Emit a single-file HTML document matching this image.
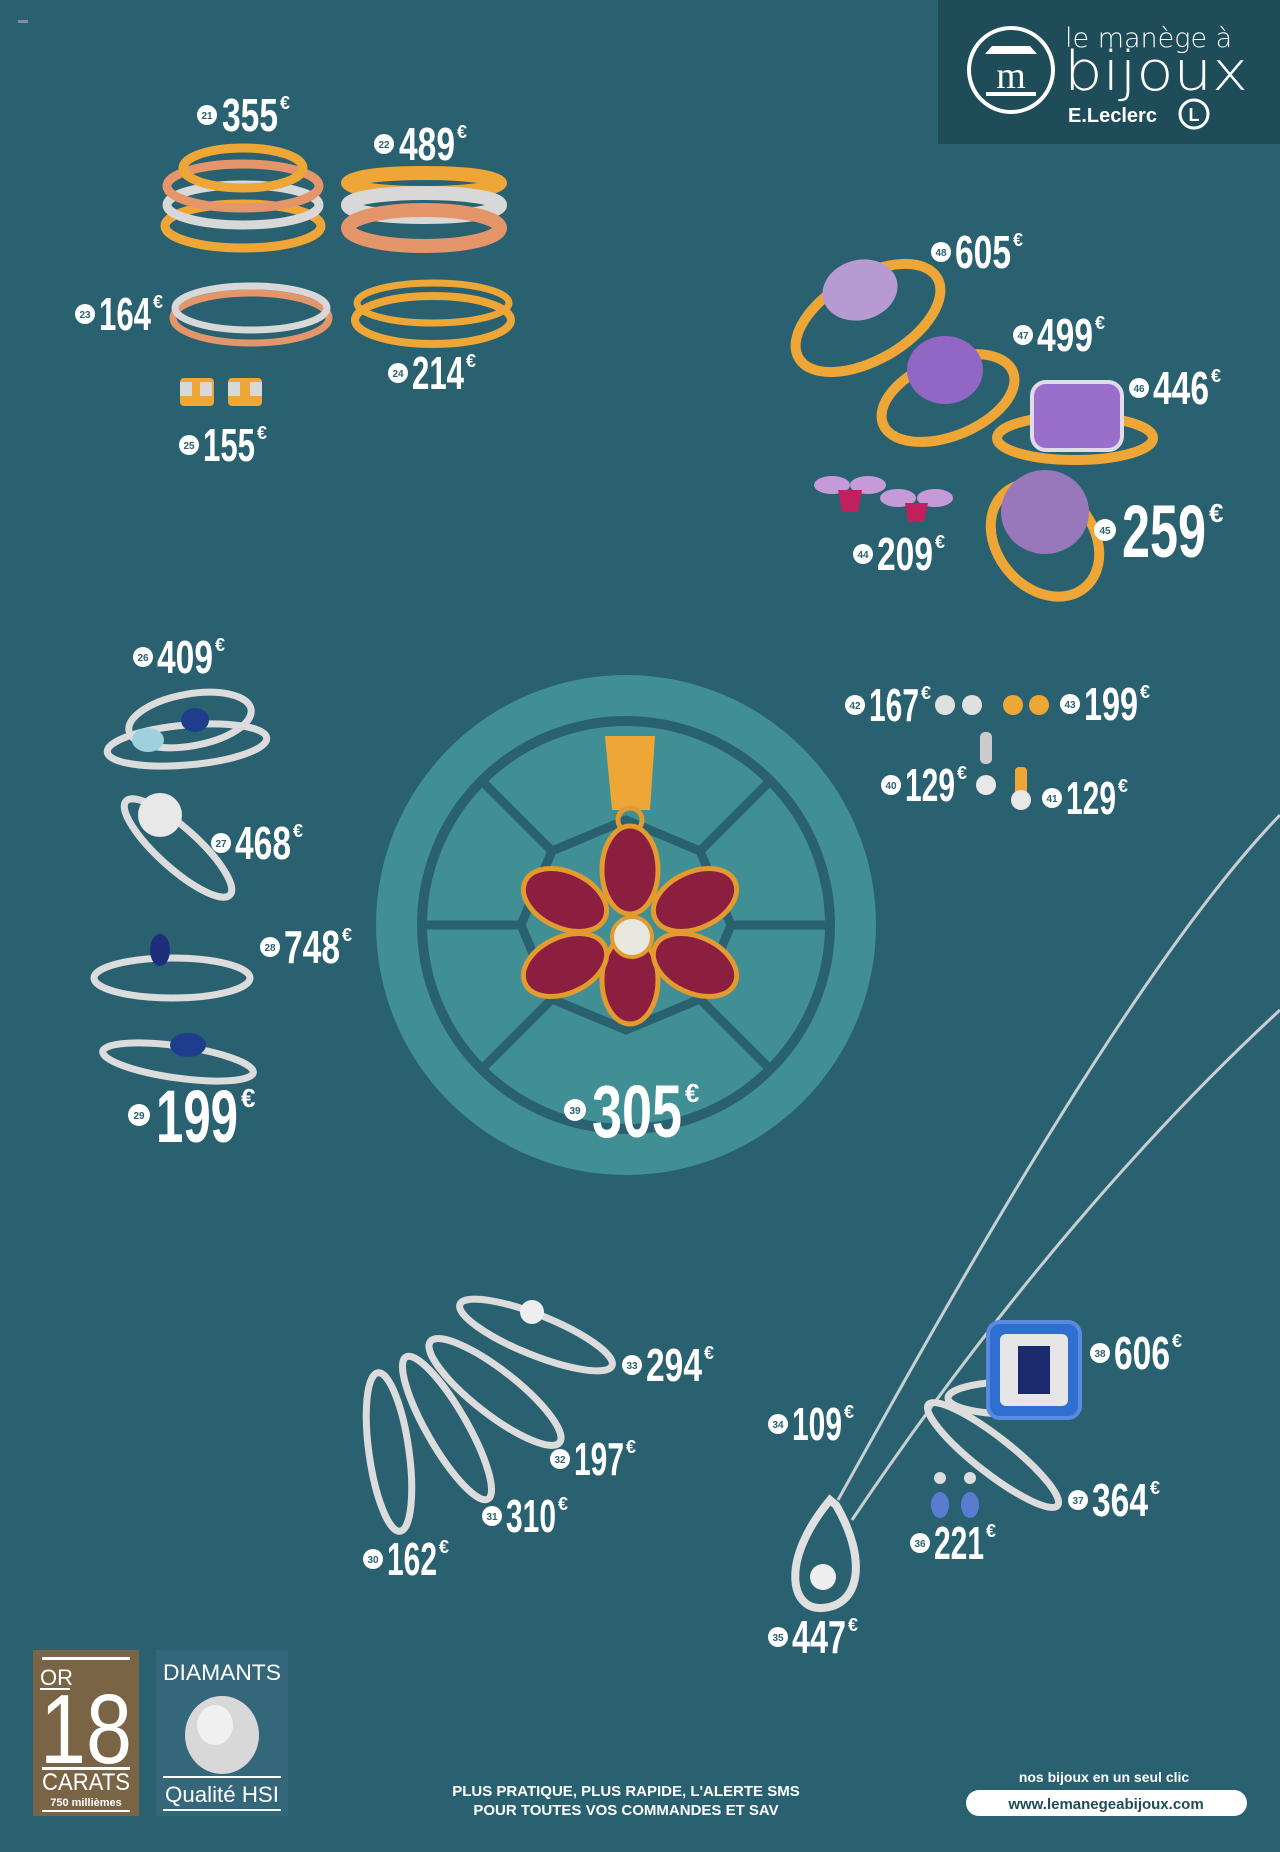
<!DOCTYPE html>
<html><head><meta charset="utf-8"><style>
html,body{margin:0;padding:0;background:#2a6170;}
svg{display:block}
.p{font-family:"Liberation Sans Narrow","Liberation Sans",sans-serif;font-weight:700;fill:#fff}
.n{font-family:"Liberation Sans",sans-serif;font-weight:700;fill:#2a6170;font-size:10px;text-anchor:middle}
</style></head><body>
<svg width="1280" height="1852" viewBox="0 0 1280 1852" xmlns="http://www.w3.org/2000/svg">
<rect width="1280" height="1852" fill="#2a6170"/>
<rect x="18" y="20" width="10" height="3" fill="#88a"/>
<!-- logo -->
<rect x="938" y="0" width="342" height="144" fill="#1f4c59"/>
<circle cx="1011" cy="70" r="42" fill="none" stroke="#fff" stroke-width="4"/>
<path d="M985 54 L1037 54 L1030 46 L992 46 Z" fill="#fff"/>
<text x="1011" y="88" font-family="Liberation Serif,serif" font-size="38" fill="#fff" text-anchor="middle">m</text>
<rect x="986" y="92" width="50" height="4" fill="#fff"/>
<text x="1065" y="47" font-family="DejaVu Sans,sans-serif" font-size="27" fill="#fff" font-weight="300">le manège à</text>
<text x="1064" y="90" font-family="DejaVu Sans,sans-serif" font-size="54" fill="#fff" font-weight="300" textLength="184" lengthAdjust="spacingAndGlyphs">bijoux</text>
<text x="1068" y="122" font-family="Liberation Sans,sans-serif" font-size="20" fill="#fff" font-weight="700">E.Leclerc</text>
<circle cx="1194" cy="114" r="14" fill="none" stroke="#fff" stroke-width="3"/>
<text x="1194" y="121" font-family="Liberation Sans,sans-serif" font-size="18" fill="#fff" font-weight="700" text-anchor="middle">L</text>

<!-- center medallion -->
<circle cx="626" cy="925" r="250" fill="#3f8f94"/>
<circle cx="626" cy="925" r="204" fill="none" stroke="#2a6170" stroke-width="10"/>
<g stroke="#2a6170" stroke-width="9">
<line x1="626" y1="925" x2="830" y2="925"/><line x1="626" y1="925" x2="422" y2="925"/>
<line x1="626" y1="925" x2="770" y2="781"/><line x1="626" y1="925" x2="482" y2="781"/>
<line x1="626" y1="925" x2="770" y2="1069"/><line x1="626" y1="925" x2="482" y2="1069"/>
</g>
<polygon points="626,820 700,851 731,925 700,999 626,1030 552,999 521,925 552,851" fill="#3f8f94" stroke="#2a6170" stroke-width="9"/>
<!-- pendant flower -->
<path d="M605 736 L655 736 L650 810 L612 810 Z" fill="#eea636"/>
<circle cx="630" cy="820" r="12" fill="none" stroke="#e39a2e" stroke-width="5"/>
<g fill="#8c1f40" stroke="#e39a2e" stroke-width="5">
<ellipse cx="630" cy="870" rx="28" ry="44"/>
<ellipse cx="630" cy="980" rx="28" ry="44"/>
<ellipse cx="565" cy="900" rx="44" ry="28" transform="rotate(25 565 900)"/>
<ellipse cx="695" cy="900" rx="44" ry="28" transform="rotate(-25 695 900)"/>
<ellipse cx="565" cy="965" rx="44" ry="28" transform="rotate(-25 565 965)"/>
<ellipse cx="695" cy="965" rx="44" ry="28" transform="rotate(25 695 965)"/>
</g>
<circle cx="632" cy="937" r="20" fill="#e8e8e0" stroke="#e39a2e" stroke-width="4"/>

<!-- top-left gold rings -->
<g fill="none" stroke-width="9">
<ellipse cx="243" cy="226" rx="78" ry="22" stroke="#eea636"/>
<ellipse cx="243" cy="205" rx="76" ry="20" stroke="#d8d8d8"/>
<ellipse cx="243" cy="186" rx="76" ry="22" stroke="#e5956a"/>
<ellipse cx="243" cy="168" rx="60" ry="20" stroke="#eea636"/>
<ellipse cx="424" cy="183" rx="76" ry="10" stroke="#eea636" stroke-width="14"/>
<ellipse cx="424" cy="205" rx="76" ry="12" stroke="#d8d8d8" stroke-width="14"/>
<ellipse cx="424" cy="228" rx="76" ry="18" stroke="#e5956a" stroke-width="14"/>
<ellipse cx="251" cy="318" rx="78" ry="25" stroke="#e5956a" stroke-width="7"/>
<ellipse cx="251" cy="308" rx="76" ry="22" stroke="#d8d8d8" stroke-width="7"/>
<ellipse cx="433" cy="320" rx="78" ry="24" stroke="#eea636" stroke-width="8"/>
<ellipse cx="433" cy="303" rx="76" ry="20" stroke="#eea636" stroke-width="7"/>
</g>
<g fill="#eea636"><rect x="180" y="378" width="34" height="28" rx="4"/><rect x="228" y="378" width="34" height="28" rx="4"/></g>
<g fill="#d8d8d8"><rect x="180" y="382" width="12" height="14"/><rect x="200" y="382" width="12" height="14"/><rect x="228" y="382" width="12" height="14"/><rect x="250" y="382" width="12" height="14"/></g>

<!-- top-right amethyst rings -->
<g fill="none" stroke="#eea636" stroke-width="10">
<ellipse cx="868" cy="318" rx="80" ry="42" transform="rotate(-30 868 318)"/>
<ellipse cx="948" cy="398" rx="70" ry="38" transform="rotate(-22 948 398)"/>
<ellipse cx="1075" cy="438" rx="78" ry="22"/>
<ellipse cx="1045" cy="540" rx="48" ry="62" transform="rotate(-40 1045 540)"/>
</g>
<ellipse cx="860" cy="290" rx="38" ry="30" fill="#b79ad1" transform="rotate(-15 860 290)"/>
<ellipse cx="945" cy="370" rx="38" ry="34" fill="#9166c4"/>
<rect x="1032" y="382" width="90" height="68" rx="14" fill="#9a6fcb" stroke="#e0dbe8" stroke-width="4"/>
<ellipse cx="1045" cy="512" rx="44" ry="42" fill="#9877bb"/>
<g fill="#c49ad8"><ellipse cx="832" cy="485" rx="18" ry="9"/><ellipse cx="868" cy="485" rx="18" ry="9"/><ellipse cx="898" cy="498" rx="18" ry="9"/><ellipse cx="935" cy="498" rx="18" ry="9"/></g>
<g fill="#c0205c"><path d="M838 490 L862 490 L858 512 L842 512Z"/><path d="M905 503 L928 503 L924 522 L908 522Z"/></g>

<!-- left silver rings -->
<g fill="none" stroke="#dcdcdc" stroke-width="7">
<ellipse cx="187" cy="745" rx="80" ry="20" transform="rotate(-5 187 745)"/>
<ellipse cx="190" cy="720" rx="62" ry="26" transform="rotate(-10 190 720)"/>
<ellipse cx="178" cy="848" rx="70" ry="20" transform="rotate(42 178 848)"/>
<ellipse cx="172" cy="978" rx="78" ry="20"/>
<ellipse cx="178" cy="1062" rx="76" ry="16" transform="rotate(8 178 1062)"/>
</g>
<ellipse cx="195" cy="720" rx="14" ry="12" fill="#1e3d8c"/>
<ellipse cx="148" cy="740" rx="16" ry="12" fill="#9fd0de"/>
<circle cx="160" cy="815" r="22" fill="#e8e8e8"/>
<ellipse cx="160" cy="950" rx="10" ry="16" fill="#1e2f7a"/>
<ellipse cx="188" cy="1045" rx="18" ry="12" fill="#1e3d8c"/>

<!-- studs / pendants -->
<g fill="#e0e0e0"><circle cx="945" cy="705" r="10"/><circle cx="972" cy="705" r="10"/></g>
<g fill="#eea636"><circle cx="1013" cy="705" r="10"/><circle cx="1039" cy="705" r="10"/></g>
<rect x="980" y="732" width="12" height="32" rx="5" fill="#ccc"/><circle cx="986" cy="785" r="10" fill="#e8e8e8"/>
<rect x="1015" y="767" width="12" height="30" rx="4" fill="#eea636"/><circle cx="1021" cy="800" r="10" fill="#e8e8e8"/>

<!-- necklaces -->
<g fill="none" stroke="#c8ced2" stroke-width="3">
<path d="M1280 815 C1140 960 960 1280 838 1500"/>
<path d="M1280 1010 C1150 1130 1000 1300 852 1520"/>
</g>
<path d="M830 1500 C780 1560 790 1610 822 1608 C860 1606 868 1560 836 1505Z" fill="none" stroke="#e0e0e0" stroke-width="8"/>
<circle cx="823" cy="1577" r="13" fill="#eee"/>

<!-- bottom silver rings -->
<g fill="none" stroke="#dcdcdc" stroke-width="7">
<ellipse cx="389" cy="1452" rx="20" ry="80" transform="rotate(-8 389 1452)"/>
<ellipse cx="447" cy="1428" rx="20" ry="82" transform="rotate(-30 447 1428)"/>
<ellipse cx="495" cy="1392" rx="22" ry="82" transform="rotate(-52 495 1392)"/>
<ellipse cx="536" cy="1335" rx="82" ry="20" transform="rotate(22 536 1335)"/>
<ellipse cx="1010" cy="1398" rx="62" ry="16"/>
<ellipse cx="993" cy="1455" rx="82" ry="18" transform="rotate(38 993 1455)"/>
</g>
<rect x="988" y="1322" width="92" height="96" rx="12" fill="#2f6fcf" stroke="#5a8be0" stroke-width="4"/>
<rect x="1000" y="1334" width="68" height="72" rx="6" fill="#e6e6e6"/>
<rect x="1018" y="1346" width="32" height="48" fill="#1b2a6c"/>
<circle cx="532" cy="1312" r="12" fill="#eee"/>
<g fill="#5a7cd0"><ellipse cx="940" cy="1505" rx="9" ry="13"/><ellipse cx="970" cy="1505" rx="9" ry="13"/></g>
<g fill="#ddd"><circle cx="940" cy="1478" r="6"/><circle cx="970" cy="1478" r="6"/></g>

<!-- prices normal -->
<g class="p" font-size="46">
<g transform="translate(207,115)"><circle r="10" fill="#fff"/><text class="n" y="4">21</text><text x="15" y="16" textLength="56" lengthAdjust="spacingAndGlyphs">355</text><text x="73" y="-6" font-size="18">€</text></g>
<g transform="translate(384,144)"><circle r="10" fill="#fff"/><text class="n" y="4">22</text><text x="15" y="16" textLength="56" lengthAdjust="spacingAndGlyphs">489</text><text x="73" y="-6" font-size="18">€</text></g>
<g transform="translate(85,314)"><circle r="10" fill="#fff"/><text class="n" y="4">23</text><text x="14" y="16" textLength="52" lengthAdjust="spacingAndGlyphs">164</text><text x="68" y="-6" font-size="18">€</text></g>
<g transform="translate(398,373)"><circle r="10" fill="#fff"/><text class="n" y="4">24</text><text x="14" y="16" textLength="52" lengthAdjust="spacingAndGlyphs">214</text><text x="68" y="-6" font-size="18">€</text></g>
<g transform="translate(189,445)"><circle r="10" fill="#fff"/><text class="n" y="4">25</text><text x="14" y="16" textLength="52" lengthAdjust="spacingAndGlyphs">155</text><text x="68" y="-6" font-size="18">€</text></g>
<g transform="translate(941,252)"><circle r="10" fill="#fff"/><text class="n" y="4">48</text><text x="14" y="16" textLength="56" lengthAdjust="spacingAndGlyphs">605</text><text x="72" y="-6" font-size="18">€</text></g>
<g transform="translate(1023,335)"><circle r="10" fill="#fff"/><text class="n" y="4">47</text><text x="14" y="16" textLength="56" lengthAdjust="spacingAndGlyphs">499</text><text x="72" y="-6" font-size="18">€</text></g>
<g transform="translate(1139,388)"><circle r="10" fill="#fff"/><text class="n" y="4">46</text><text x="14" y="16" textLength="56" lengthAdjust="spacingAndGlyphs">446</text><text x="72" y="-6" font-size="18">€</text></g>
<g transform="translate(863,554)"><circle r="10" fill="#fff"/><text class="n" y="4">44</text><text x="14" y="16" textLength="56" lengthAdjust="spacingAndGlyphs">209</text><text x="72" y="-6" font-size="18">€</text></g>
<g transform="translate(143,657)"><circle r="10" fill="#fff"/><text class="n" y="4">26</text><text x="14" y="16" textLength="56" lengthAdjust="spacingAndGlyphs">409</text><text x="72" y="-6" font-size="18">€</text></g>
<g transform="translate(221,843)"><circle r="10" fill="#fff"/><text class="n" y="4">27</text><text x="14" y="16" textLength="56" lengthAdjust="spacingAndGlyphs">468</text><text x="72" y="-6" font-size="18">€</text></g>
<g transform="translate(270,947)"><circle r="10" fill="#fff"/><text class="n" y="4">28</text><text x="14" y="16" textLength="56" lengthAdjust="spacingAndGlyphs">748</text><text x="72" y="-6" font-size="18">€</text></g>
<g transform="translate(855,705)"><circle r="10" fill="#fff"/><text class="n" y="4">42</text><text x="14" y="16" textLength="50" lengthAdjust="spacingAndGlyphs">167</text><text x="66" y="-6" font-size="18">€</text></g>
<g transform="translate(1070,704)"><circle r="10" fill="#fff"/><text class="n" y="4">43</text><text x="14" y="16" textLength="54" lengthAdjust="spacingAndGlyphs">199</text><text x="70" y="-6" font-size="18">€</text></g>
<g transform="translate(891,785)"><circle r="10" fill="#fff"/><text class="n" y="4">40</text><text x="14" y="16" textLength="50" lengthAdjust="spacingAndGlyphs">129</text><text x="66" y="-6" font-size="18">€</text></g>
<g transform="translate(1052,798)"><circle r="10" fill="#fff"/><text class="n" y="4">41</text><text x="14" y="16" textLength="50" lengthAdjust="spacingAndGlyphs">129</text><text x="66" y="-6" font-size="18">€</text></g>
<g transform="translate(632,1365)"><circle r="10" fill="#fff"/><text class="n" y="4">33</text><text x="14" y="16" textLength="56" lengthAdjust="spacingAndGlyphs">294</text><text x="72" y="-6" font-size="18">€</text></g>
<g transform="translate(560,1459)"><circle r="10" fill="#fff"/><text class="n" y="4">32</text><text x="14" y="16" textLength="50" lengthAdjust="spacingAndGlyphs">197</text><text x="66" y="-6" font-size="18">€</text></g>
<g transform="translate(492,1516)"><circle r="10" fill="#fff"/><text class="n" y="4">31</text><text x="14" y="16" textLength="50" lengthAdjust="spacingAndGlyphs">310</text><text x="66" y="-6" font-size="18">€</text></g>
<g transform="translate(373,1559)"><circle r="10" fill="#fff"/><text class="n" y="4">30</text><text x="14" y="16" textLength="50" lengthAdjust="spacingAndGlyphs">162</text><text x="66" y="-6" font-size="18">€</text></g>
<g transform="translate(778,1424)"><circle r="10" fill="#fff"/><text class="n" y="4">34</text><text x="14" y="16" textLength="50" lengthAdjust="spacingAndGlyphs">109</text><text x="66" y="-6" font-size="18">€</text></g>
<g transform="translate(1100,1353)"><circle r="10" fill="#fff"/><text class="n" y="4">38</text><text x="14" y="16" textLength="56" lengthAdjust="spacingAndGlyphs">606</text><text x="72" y="-6" font-size="18">€</text></g>
<g transform="translate(1078,1500)"><circle r="10" fill="#fff"/><text class="n" y="4">37</text><text x="14" y="16" textLength="56" lengthAdjust="spacingAndGlyphs">364</text><text x="72" y="-6" font-size="18">€</text></g>
<g transform="translate(920,1543)"><circle r="10" fill="#fff"/><text class="n" y="4">36</text><text x="14" y="16" textLength="50" lengthAdjust="spacingAndGlyphs">221</text><text x="66" y="-6" font-size="18">€</text></g>
<g transform="translate(778,1637)"><circle r="10" fill="#fff"/><text class="n" y="4">35</text><text x="14" y="16" textLength="54" lengthAdjust="spacingAndGlyphs">447</text><text x="70" y="-6" font-size="18">€</text></g>
</g>
<!-- large prices -->
<g class="p" font-size="74">
<g transform="translate(1105,530)"><circle r="11" fill="#fff"/><text class="n" y="4">45</text><text x="17" y="27" textLength="84" lengthAdjust="spacingAndGlyphs">259</text><text x="104" y="-8" font-size="26">€</text></g>
<g transform="translate(139,1115)"><circle r="11" fill="#fff"/><text class="n" y="4">29</text><text x="17" y="27" textLength="82" lengthAdjust="spacingAndGlyphs">199</text><text x="102" y="-8" font-size="26">€</text></g>
<g transform="translate(575,1110)"><circle r="11" fill="#fff"/><text class="n" y="4">39</text><text x="17" y="27" textLength="90" lengthAdjust="spacingAndGlyphs">305</text><text x="110" y="-8" font-size="26">€</text></g>
</g>

<!-- bottom badges -->
<rect x="33" y="1650" width="106" height="166" fill="#7a6446"/>
<rect x="42" y="1657" width="88" height="3" fill="#fff"/>
<text x="40" y="1685" font-family="Liberation Sans Narrow,Liberation Sans,sans-serif" font-size="22" fill="#fff">OR</text>
<rect x="40" y="1688" width="30" height="2" fill="#fff"/>
<text x="40" y="1763" font-family="Liberation Sans,sans-serif" font-size="98" fill="#fff" textLength="92" lengthAdjust="spacingAndGlyphs">18</text>
<rect x="42" y="1767" width="88" height="3" fill="#fff"/>
<text x="86" y="1790" font-family="Liberation Sans Narrow,Liberation Sans,sans-serif" font-size="24" fill="#fff" text-anchor="middle" textLength="88" lengthAdjust="spacingAndGlyphs">CARATS</text>
<text x="86" y="1806" font-family="Liberation Sans,sans-serif" font-weight="700" font-size="11" fill="#fff" text-anchor="middle">750 millièmes</text>
<rect x="42" y="1810" width="88" height="2" fill="#fff"/>
<rect x="156" y="1650" width="132" height="166" fill="#35677a"/>
<text x="222" y="1680" font-family="Liberation Sans Narrow,Liberation Sans,sans-serif" font-size="22" fill="#fff" text-anchor="middle" textLength="118" lengthAdjust="spacingAndGlyphs">DIAMANTS</text>
<ellipse cx="222" cy="1735" rx="37" ry="39" fill="#d8d8d8"/>
<ellipse cx="215" cy="1725" rx="18" ry="20" fill="#f0f0f0"/>
<rect x="163" y="1776" width="118" height="2" fill="#fff"/>
<text x="222" y="1802" font-family="Liberation Sans Narrow,Liberation Sans,sans-serif" font-size="22" fill="#fff" text-anchor="middle" textLength="114" lengthAdjust="spacingAndGlyphs">Qualité HSI</text>
<rect x="163" y="1809" width="118" height="2" fill="#fff"/>

<text x="626" y="1796" font-family="Liberation Sans Narrow,Liberation Sans,sans-serif" font-weight="700" font-size="15" fill="#fff" text-anchor="middle">PLUS PRATIQUE, PLUS RAPIDE, L'ALERTE SMS</text>
<text x="626" y="1815" font-family="Liberation Sans Narrow,Liberation Sans,sans-serif" font-weight="700" font-size="15" fill="#fff" text-anchor="middle">POUR TOUTES VOS COMMANDES ET SAV</text>
<text x="1104" y="1782" font-family="Liberation Sans Narrow,Liberation Sans,sans-serif" font-weight="700" font-size="14" fill="#fff" text-anchor="middle">nos bijoux en un seul clic</text>
<rect x="966" y="1790" width="281" height="26" rx="13" fill="#fff"/>
<text x="1106" y="1809" font-family="Liberation Sans,sans-serif" font-weight="700" font-size="15" fill="#1f4c59" text-anchor="middle">www.lemanegeabijoux.com</text>
</svg>
</body></html>
